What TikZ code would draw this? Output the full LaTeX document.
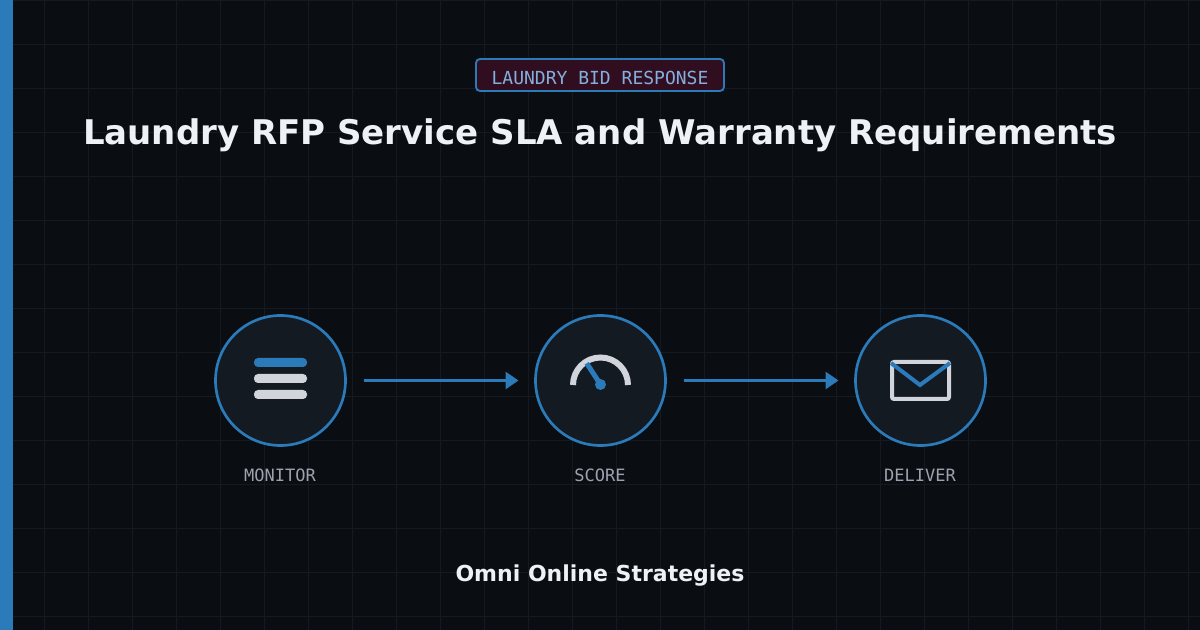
\documentclass[tikz,border=0pt]{standalone}
\usepackage{fontspec}
\setmainfont{DejaVu Sans}
\setmonofont{DejaVu Sans Mono}
\usetikzlibrary{arrows.meta}
\definecolor{bgcol}{HTML}{0A0D12}
\definecolor{gridcol}{HTML}{141A22}
\definecolor{bluecol}{HTML}{2B7BBA}
\definecolor{circcol}{HTML}{131A22}
\definecolor{lightcol}{HTML}{D1D5DB}
\definecolor{badgecol}{HTML}{310E1F}
\definecolor{badgetext}{HTML}{84AEDD}
\definecolor{graycol}{HTML}{9CA3AF}
\definecolor{titlecol}{HTML}{EEF2F6}
\tikzset{
    stage/.style = {shape=circle,draw=bluecol,fill=circcol,line width=2pt,minimum size=97.5pt,inner sep=0pt,outer sep=0pt},
    stagelabel/.style = {text=graycol,font=\ttfamily\fontsize{12.75}{15}\selectfont},
    flow/.style = {bluecol,line width=2.25pt,-{Triangle[length=9.75pt,width=12.75pt]},shorten <=14pt,shorten >=12.75pt},
    bar/.style = {rounded corners=3pt,draw=none},
    iconline/.style = {lightcol,line width=3pt},
}
\begin{document}
\begin{tikzpicture}[x=0.75pt,y=-0.75pt]
    \useasboundingbox (0,0) rectangle (1200,630);
    \fill[bgcol] (0,0) rectangle (1200,630);
    \foreach \x in {0,44,...,1188}
        \draw[gridcol,line width=0.75pt] (\x+0.5,0) -- (\x+0.5,630);
    \foreach \y in {0,44,...,616}
        \draw[gridcol,line width=0.75pt] (0,\y+0.5) -- (1200,\y+0.5);
    \fill[bluecol] (0,0) rectangle (13,630);

    \node[draw=bluecol,fill=badgecol,line width=1.4pt,rounded corners=3pt,minimum width=186pt,minimum height=24pt,inner sep=0pt] (badge) at (600,75) {};
    \node[text=badgetext,font=\ttfamily\fontsize{13.5}{16}\selectfont] (badgelabel) at (600,77.5) {LAUNDRY BID RESPONSE};
    \node[text=titlecol,font=\bfseries\fontsize{25.5}{30}\selectfont] (title) at (600,135) {Laundry RFP Service SLA and Warranty Requirements};

    \node[stage] (monitor) at (280.5,380.5) {};
    \node[stage] (score) at (600.5,380.5) {};
    \node[stage] (deliver) at (920.5,380.5) {};

    \node[stagelabel] (monitorlabel) at (280,475) {MONITOR};
    \node[stagelabel] (scorelabel) at (600,475) {SCORE};
    \node[stagelabel] (deliverlabel) at (920,475) {DELIVER};

    \draw[flow] (monitor) -- (score);
    \draw[flow] (score) -- (deliver);

    \fill[bar,bluecol] (254,358) rectangle (307,367);
    \fill[bar,lightcol] (254,374) rectangle (307,383);
    \fill[bar,lightcol] (254,390) rectangle (307,399);

    \draw[iconline,line width=4.5pt] (573,385) arc[start angle=180,end angle=360,radius=27.5];
    \draw[bluecol,line width=3.75pt] (600.5,384.5) -- (586.7,363.3);
    \fill[bluecol] (600.5,384.5) circle (5.5);

    \draw[iconline,rounded corners=1.5pt] (892,362) rectangle (949,399);
    \draw[bluecol,line width=3pt] (891,363) -- (920,385) -- (950,363);

    \node[text=titlecol,font=\bfseries\fontsize{16.5}{20}\selectfont] (company) at (600,576) {Omni Online Strategies};
\end{tikzpicture}
\end{document}
